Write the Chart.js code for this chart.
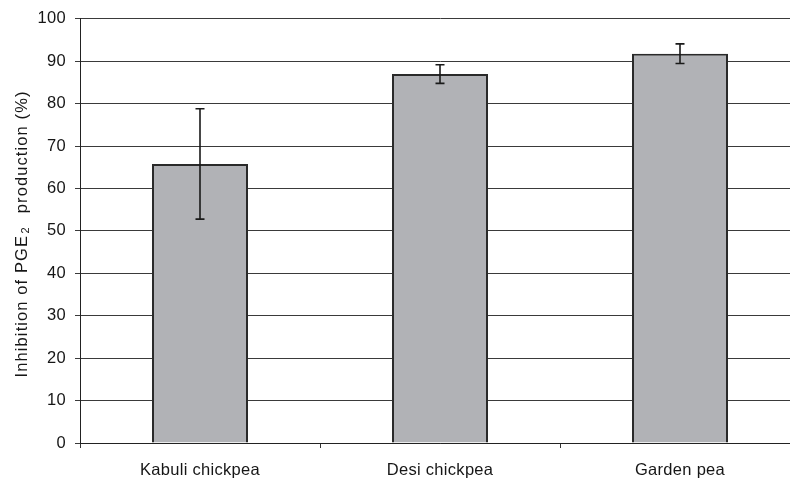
<!DOCTYPE html>
<html>
<head>
<meta charset="utf-8">
<script src="https://cdn.jsdelivr.net/npm/chart.js@4"></script>
<style>
  html, body { margin: 0; padding: 0; background: #fff; overflow: hidden; }
  #wrap { width: 800px; height: 481px; }
</style>
</head>
<body>
<div id="wrap"><canvas id="c" width="800" height="481"></canvas></div>
<script>
// Legume extracts and their mean inhibition of PGE2 production (%), with error (±)
const categories = ['Kabuli chickpea', 'Desi chickpea', 'Garden pea'];
const inhibition = [65.8, 87.0, 91.8];
const errors = [13.0, 2.2, 2.3];
const yTickValues = [0, 10, 20, 30, 40, 50, 60, 70, 80, 90, 100];

// Y-axis title, split so the "2" can be set as a subscript
const yTitleMain = 'Inhibition of PGE';
const yTitleSub = '2';
const yTitleRest = 'production (%)';

const FAMILY = '"Liberation Sans", Arial, sans-serif';
const FONT = { family: FAMILY, size: 16.5 };
const TEXT_COLOR = '#161616';
const TICK_SPACING = '0.3px';

// Slightly open lettering for the tick labels
const letterSpacingPlugin = {
  id: 'letterSpacing',
  beforeUpdate(chart) { chart.ctx.letterSpacing = TICK_SPACING; },
  beforeLayout(chart) { chart.ctx.letterSpacing = TICK_SPACING; },
  beforeDraw(chart) { chart.ctx.letterSpacing = TICK_SPACING; }
};

// Vertical error bars with flat caps, placed through the chart's scales
const errorBarPlugin = {
  id: 'errorBars',
  afterDatasetsDraw(chart) {
    const ctx = chart.ctx;
    const yScale = chart.scales.y;
    const meta = chart.getDatasetMeta(0);
    ctx.save();
    ctx.strokeStyle = '#1a1a1a';
    ctx.lineWidth = 1.6;
    meta.data.forEach((bar, i) => {
      const x = bar.x;
      const top = yScale.getPixelForValue(inhibition[i] + errors[i]);
      const bot = yScale.getPixelForValue(inhibition[i] - errors[i]);
      const half = 4.5;
      ctx.beginPath();
      ctx.moveTo(x, top); ctx.lineTo(x, bot);
      ctx.moveTo(x - half, top); ctx.lineTo(x + half, top);
      ctx.moveTo(x - half, bot); ctx.lineTo(x + half, bot);
      ctx.stroke();
    });
    ctx.restore();
  }
};

// Rotated y-axis title with a subscript, centred on the plot area
const yTitlePlugin = {
  id: 'yTitle',
  afterDraw(chart) {
    const ctx = chart.ctx;
    const area = chart.chartArea;
    const big = '16.5px ' + FAMILY;
    const small = '11px ' + FAMILY;
    ctx.save();
    ctx.letterSpacing = '1.1px';
    ctx.fillStyle = TEXT_COLOR;
    ctx.textBaseline = 'alphabetic';
    ctx.textAlign = 'left';
    ctx.font = big;
    const w1 = ctx.measureText(yTitleMain).width;
    const w3 = ctx.measureText(yTitleRest).width;
    ctx.font = small;
    const w2 = ctx.measureText(yTitleSub).width;
    const gapSub = 1.5;
    const gapAfter = 13;
    const total = w1 + gapSub + w2 + gapAfter + w3;
    const cy = (area.top + area.bottom) / 2 + 3;
    ctx.translate(21, cy);
    ctx.rotate(-Math.PI / 2);
    let x = -total / 2;
    const base = 5.9;
    ctx.font = big;
    ctx.fillText(yTitleMain, x, base);
    x += w1 + gapSub;
    ctx.font = small;
    ctx.fillText(yTitleSub, x, base + 2.5);
    x += w2 + gapAfter;
    ctx.font = big;
    ctx.fillText(yTitleRest, x, base);
    ctx.restore();
  }
};

new Chart(document.getElementById('c'), {
  type: 'bar',
  data: {
    labels: categories,
    datasets: [{
      data: inhibition,
      backgroundColor: '#b1b2b6',
      borderColor: '#2a2a2a',
      borderWidth: 2,
      categoryPercentage: 1.0,
      barPercentage: 0.4
    }]
  },
  options: {
    responsive: false,
    animation: false,
    devicePixelRatio: 1,
    layout: { padding: { top: 18, right: 0, bottom: 0, left: 0 } },
    plugins: {
      legend: { display: false },
      tooltip: { enabled: false }
    },
    scales: {
      x: {
        offset: true,
        grid: {
          offset: true,
          drawOnChartArea: false,
          drawTicks: true,
          tickLength: 5,
          color: '#333',
          lineWidth: 1
        },
        border: { color: '#222', width: 1 },
        ticks: { color: TEXT_COLOR, font: FONT, padding: 13, maxRotation: 0 },
        afterFit(scale) { scale.height = 38; }
      },
      y: {
        min: 0,
        max: 100,
        afterBuildTicks(scale) { scale.ticks = yTickValues.map(v => ({ value: v })); },
        grid: {
          drawOnChartArea: true,
          drawTicks: true,
          tickLength: 5,
          color: '#3a3a3a',
          lineWidth: 1
        },
        border: { color: '#222', width: 1 },
        ticks: { color: TEXT_COLOR, font: FONT, padding: 9 },
        title: { display: false },
        afterFit(scale) { scale.width = 80; }
      }
    }
  },
  plugins: [letterSpacingPlugin, errorBarPlugin, yTitlePlugin]
});
</script>
</body>
</html>
